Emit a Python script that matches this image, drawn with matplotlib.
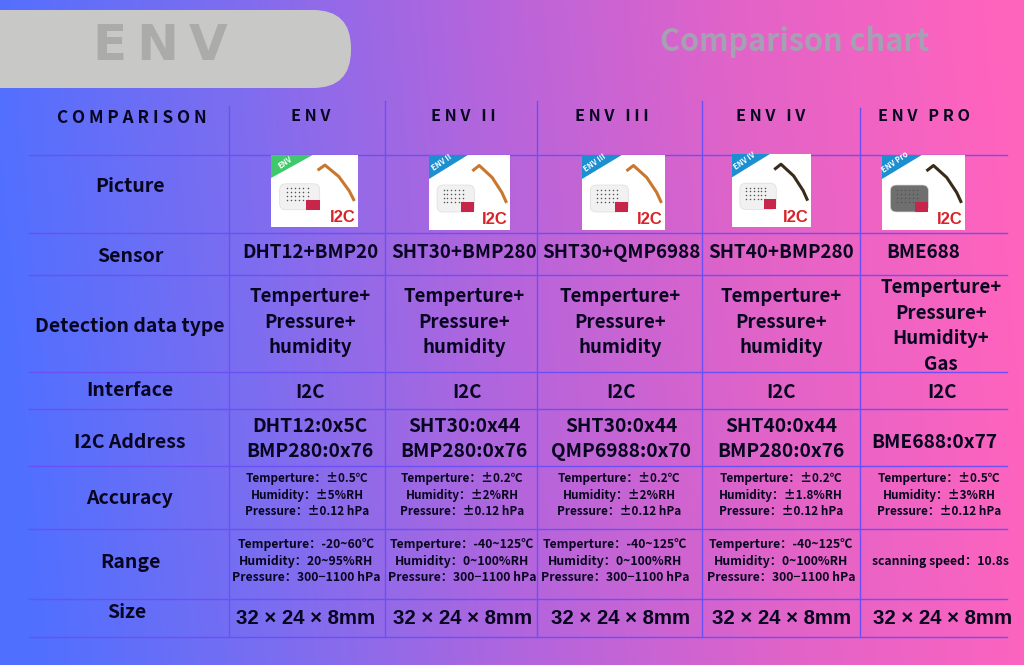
import numpy as np
import matplotlib
matplotlib.use("Agg")
import matplotlib.pyplot as plt
from matplotlib.colors import LinearSegmentedColormap
from matplotlib.patches import Rectangle, Polygon, FancyBboxPatch

plt.rcParams['font.family'] = ['Noto Sans CJK SC', 'DejaVu Sans']

# table content
products = ["ENV", "ENV II", "ENV III", "ENV IV", "ENV PRO"]
row_labels = ["Picture", "Sensor", "Detection data type", "Interface", "I2C Address", "Accuracy", "Range", "Size"]
sensors = ["DHT12+BMP20", "SHT30+BMP280", "SHT30+QMP6988", "SHT40+BMP280", "BME688"]
data_types = ["Temperture+\nPressure+\nhumidity"] * 4 + ["Temperture+\nPressure+\nHumidity+\nGas"]
interfaces = ["I2C"] * 5
addresses = ["DHT12:0x5C\nBMP280:0x76", "SHT30:0x44\nBMP280:0x76", "SHT30:0x44\nQMP6988:0x70",
             "SHT40:0x44\nBMP280:0x76", "BME688:0x77"]
accuracy = ["Temperture：±0.5℃\nHumidity：±5%RH\nPressure：±0.12 hPa",
            "Temperture：±0.2℃\nHumidity：±2%RH\nPressure：±0.12 hPa",
            "Temperture：±0.2℃\nHumidity：±2%RH\nPressure：±0.12 hPa",
            "Temperture：±0.2℃\nHumidity：±1.8%RH\nPressure：±0.12 hPa",
            "Temperture：±0.5℃\nHumidity：±3%RH\nPressure：±0.12 hPa"]
ranges = ["Temperture：-20~60℃\nHumidity：20~95%RH\nPressure：300−1100 hPa",
          "Temperture：-40~125℃\nHumidity：0~100%RH\nPressure：300−1100 hPa",
          "Temperture：-40~125℃\nHumidity：0~100%RH\nPressure：300−1100 hPa",
          "Temperture：-40~125℃\nHumidity：0~100%RH\nPressure：300−1100 hPa",
          "scanning speed：10.8s"]
sizes = ["32 × 24 × 8mm"] * 5

# layout, in reference pixels
line_color = "#6a50f5"
hlines = [155, 233, 275, 372, 409, 466, 529, 599, 637]
vlines = [(229, 106), (385, 101), (537, 101), (702, 101), (860, 108)]
thumbs = [(271, 155, 87, 72, "#3fc96b"), (429, 155, 81, 75, "#1b8fd0"), (582, 155, 83, 75, "#1b8fd0"),
          (732, 154, 79, 73, "#1b8fd0"), (882, 155, 83, 75, "#1b8fd0")]
badge = ["ENV", "ENV II", "ENV III", "ENV IV", "ENV Pro"]
cable = ["#c9772f", "#c9772f", "#c9772f", "#3a2a1a", "#3a2a1a"]
body = ["#f1f1f1", "#f1f1f1", "#f1f1f1", "#f1f1f1", "#6f6f6f"]

fig = plt.figure(figsize=(10.24, 6.65), dpi=100)
ax = fig.add_axes([0, 0, 1, 1])
ax.set_xlim(0, 1024)
ax.set_ylim(665, 0)
ax.axis("off")

# background gradient, slightly slanted
cmap = LinearSegmentedColormap.from_list("bg", ["#4f70ff", "#7d6df0", "#b565dc", "#e263c8", "#ff64bd"], N=1024)
xx, yy = np.meshgrid(np.linspace(0, 1, 512), np.linspace(0, 1, 64))
ax.imshow(xx + 0.06 * (0.5 - yy), cmap=cmap, vmin=0, vmax=1, extent=(0, 1024, 665, 0), aspect="auto", zorder=0)

# header
ax.add_patch(FancyBboxPatch((-60, 10), 411, 78, boxstyle="round,pad=0,rounding_size=38", fc="#c8c8c6", ec="none", zorder=1))
ax.text(160, 46, "E\u2009N\u2009V", fontsize=36, fontweight="bold", color="#ababa9", ha="center", va="center",
        family=["DejaVu Sans"], zorder=2)
ax.text(795, 42, "Comparison chart", fontsize=22, fontweight="bold", color="#a6a0b4", ha="center", va="center", zorder=2)

# grid
for y in hlines:
    ax.plot([29, 1007], [y, y], color=line_color, lw=1, zorder=2)
for x, top in vlines:
    ax.plot([x, x], [top, 637], color=line_color, lw=1, zorder=2)

TXT = "#07051f"

ax.text(132, 118, " ".join("COMPARISON"), fontsize=12.3, fontweight="bold", color=TXT, ha="center", va="center", zorder=3)
head_x = [311, 463, 612, 771, 924]
for x, name in zip(head_x, products):
    ax.text(x, 116, " ".join(name), fontsize=11.7, fontweight="bold", color=TXT,
            ha="center", va="center", zorder=3)

# row labels
label_pos = [(130, 187), (130, 256), (130, 326), (130, 390), (130, 443), (129, 498), (130, 562), (127, 613)]
for (x, y), lab in zip(label_pos, row_labels):
    ax.text(x, y, lab, fontsize=14, fontweight="bold", color=TXT, ha="center", va="center", zorder=3)


def cell_row(values, xs, ys, fs, ls=1.2, family=None):
    for x, y, v in zip(xs, ys, values):
        ax.text(x, y, v, fontsize=fs, fontweight="bold", color=TXT, ha="center", va="center",
                linespacing=ls, family=family, zorder=3)


cell_row(sensors, [310, 464, 621, 781, 923], [252] * 5, 13.5)
cell_row(data_types, [310, 464, 620, 781, 941], [322, 322, 322, 322, 326], 13.4, 1.44)
cell_row(interfaces, [310, 467, 621, 781, 942], [393] * 5, 13.5)
cell_row(addresses, [310, 464, 621, 781, 934], [439, 439, 439, 439, 442], 13.8, 1.35)
cell_row(accuracy, [307, 462, 619, 781, 939], [495] * 5, 8.5, 1.38)
cell_row(ranges, [306, 462, 615, 781, 940], [561] * 5, 8.8, 1.32)
cell_row(sizes, [306, 463, 621, 782, 943], [618] * 5, 14.7, family=["Liberation Sans", "DejaVu Sans"])

# product thumbnails, simplified
for (x, y, w, h, band), name, c, b in zip(thumbs, badge, cable, body):
    ax.add_patch(Rectangle((x, y), w, h, fc="white", ec="none", zorder=2.5))
    ax.add_patch(Polygon([(x, y), (x + 0.48 * w, y), (x, y + 0.32 * h)], fc=band, ec="none", zorder=2.6))
    ax.text(x + 0.16 * w, y + 0.1 * h, name, fontsize=5.5, fontweight="bold", color="white", rotation=35,
            ha="center", va="center", zorder=2.7)
    ax.add_patch(FancyBboxPatch((x + 0.1 * w, y + 0.4 * h), 0.46 * w, 0.36 * h, boxstyle="round,pad=0,rounding_size=6",
                                fc=b, ec="#dddddd", lw=0.5, zorder=2.6))
    # speaker holes on the module
    dx, dy = np.meshgrid(np.linspace(0.18, 0.42, 6), np.linspace(0.46, 0.62, 4))
    ax.scatter(x + w * dx.ravel(), y + h * dy.ravel(), s=1.2, color="#555555", linewidths=0, zorder=2.7)
    ax.add_patch(Rectangle((x + 0.4 * w, y + 0.62 * h), 0.16 * w, 0.14 * h, fc="#c8254a", ec="none", zorder=2.7))
    ax.plot(x + w * np.array([0.55, 0.62, 0.78, 0.9, 0.95]), y + h * np.array([0.2, 0.14, 0.3, 0.5, 0.62]),
            color=c, lw=2.2, zorder=2.6)
    ax.text(x + w - 15, y + h - 10, "I2C", fontsize=12, fontweight="bold", color="#d8232a", ha="center", va="center",
            family=["Liberation Sans", "DejaVu Sans"], zorder=2.8)

fig.savefig("out.png", dpi=100)
